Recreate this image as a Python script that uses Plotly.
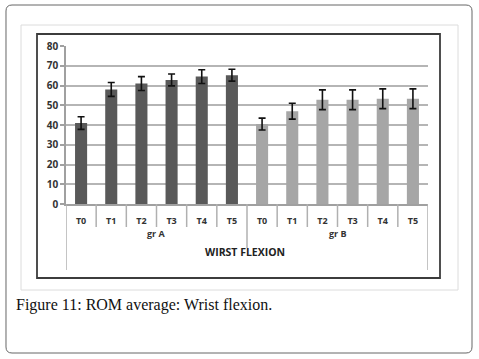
import plotly.graph_objects as go

groups = ["gr A", "gr B"]
times = ["T0", "T1", "T2", "T3", "T4", "T5"]
values_a = [41, 58, 61, 62.8, 64.5, 65.2]
errors_a = [3.2, 3.5, 3.5, 3.0, 3.5, 3.0]
values_b = [40.5, 47, 52.8, 52.8, 53.3, 53.3]
errors_b = [3.0, 4.0, 5.0, 5.0, 5.0, 5.0]
y_ticks = [0, 10, 20, 30, 40, 50, 60, 70, 80]
axis_title = "WIRST FLEXION"
caption = "Figure 11: ROM average: Wrist flexion."

W, H = 479, 359
L, R, T, B = 66, 428, 46, 204

n = len(times)
pos_a = list(range(n))
pos_b = [n + i for i in range(n)]
all_pos = pos_a + pos_b
all_labels = times + times


def px(x):
    return (x - L) / (R - L)


def py(y):
    return (B - y) / (B - T)


fig = go.Figure()
fig.add_trace(go.Bar(
    x=pos_a, y=values_a,
    marker=dict(color="#595959", line=dict(width=0)),
    error_y=dict(type="data", array=errors_a, color="#111111", thickness=1.6, width=3.5),
    width=0.4, showlegend=False,
))
fig.add_trace(go.Bar(
    x=pos_b, y=values_b,
    marker=dict(color="#a6a6a6", line=dict(width=0)),
    error_y=dict(type="data", array=errors_b, color="#111111", thickness=1.6, width=3.5),
    width=0.4, showlegend=False,
))


def rounded_rect(x0, y0, x1, y1, r):
    def P(x, y):
        return f"{px(x):.5f},{py(y):.5f}"
    return (f"M {P(x0 + r, y0)} L {P(x1 - r, y0)} Q {P(x1, y0)} {P(x1, y0 + r)} "
            f"L {P(x1, y1 - r)} Q {P(x1, y1)} {P(x1 - r, y1)} L {P(x0 + r, y1)} "
            f"Q {P(x0, y1)} {P(x0, y1 - r)} L {P(x0, y0 + r)} Q {P(x0, y0)} {P(x0 + r, y0)} Z")


shapes = []
shapes.append(dict(type="path", xref="paper", yref="paper", path=rounded_rect(6, 5, 472, 353, 6),
                   line=dict(color="#666666", width=1), layer="below"))
shapes.append(dict(type="rect", xref="paper", yref="paper", x0=px(21), y0=py(290), x1=px(458), y1=py(25),
                   line=dict(color="#dcdcdc", width=1), layer="below"))
shapes.append(dict(type="rect", xref="paper", yref="paper", x0=px(37), y0=py(278), x1=px(440), y1=py(34),
                   line=dict(color="#3c3c3c", width=1.8), layer="below"))

sep_color = "#b0b0b0"
for i in range(len(all_pos) - 1):
    b = (all_pos[i] + all_pos[i + 1]) / 2
    y_end = 248 if i == n - 1 else 227
    shapes.append(dict(type="line", xref="x", yref="paper", x0=b, x1=b, y0=py(204), y1=py(y_end),
                       line=dict(color=sep_color, width=1.5)))
for b in (all_pos[0] - 0.5, all_pos[-1] + 0.5):
    shapes.append(dict(type="line", xref="x", yref="paper", x0=b, x1=b, y0=py(204), y1=py(270),
                       line=dict(color=sep_color, width=1.5)))

annotations = []
for g, ps in zip(groups, (pos_a, pos_b)):
    annotations.append(dict(text="<b>" + g + "</b>", xref="x", yref="paper", x=sum(ps) / len(ps), y=py(242),
                            showarrow=False, font=dict(family="Open Sans", size=9, color="#333333")))
annotations.append(dict(text="<b>" + axis_title + "</b>", xref="paper", yref="paper", x=px(245), y=py(261),
                        showarrow=False, font=dict(family="Open Sans", size=10.5, color="#222222")))
annotations.append(dict(text=caption, xref="paper", yref="paper", x=px(14), y=py(316), xanchor="left",
                        showarrow=False, font=dict(family="Liberation Serif", size=16, color="#111111")))

fig.update_layout(
    width=W, height=H,
    margin=dict(l=L, r=W - R, t=T, b=H - B),
    paper_bgcolor="white", plot_bgcolor="white",
    shapes=shapes, annotations=annotations,
    xaxis=dict(
        range=[all_pos[0] - 0.5, all_pos[-1] + 0.5], tickvals=all_pos, ticktext=all_labels,
        showline=True, linecolor="#a0a0a0", linewidth=1.5, ticks="", showgrid=False, zeroline=False,
        ticklabelstandoff=7, automargin=False, fixedrange=True,
        tickfont=dict(family="Open Sans", size=9, color="#333333", weight="bold"),
    ),
    yaxis=dict(
        range=[0, 80], tickvals=y_ticks, showgrid=True, gridcolor="#b5b5b5", gridwidth=1.5,
        showline=True, linecolor="#a0a0a0", linewidth=1.5, ticks="outside", ticklen=4,
        tickcolor="#a0a0a0", tickwidth=1.5, automargin=False,
        tickfont=dict(family="Open Sans", size=10, color="#333333", weight="bold"),
        zeroline=False, fixedrange=True,
    ),
)
fig.write_html("out.html", config={"displayModeBar": False},
               post_script="document.body.style.margin='0';document.body.style.overflow='hidden';")
